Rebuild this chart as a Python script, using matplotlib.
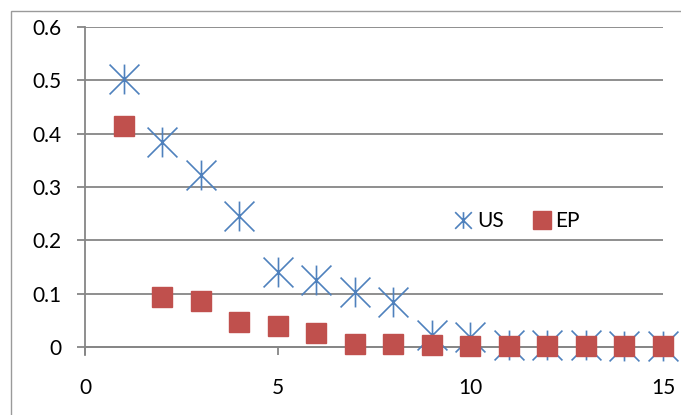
import numpy as np
import matplotlib.pyplot as plt
from matplotlib.path import Path
from matplotlib.patches import Rectangle

# datos
x = [1, 2, 3, 4, 5, 6, 7, 8, 9, 10, 11, 12, 13, 14, 15]
us = [0.502, 0.385, 0.322, 0.245, 0.141, 0.126, 0.104, 0.084, 0.022, 0.018,
      0.004, 0.003, 0.003, 0.002, 0.002]
ep = [0.415, 0.093, 0.087, 0.046, 0.040, 0.027, 0.006, 0.005, 0.004, 0.002,
      0.002, 0.001, 0.001, 0.001, 0.001]
xticks = [0, 5, 10, 15]
yticks = [0, 0.1, 0.2, 0.3, 0.4, 0.5, 0.6]
ytick_labels = ["0", "0.1", "0.2", "0.3", "0.4", "0.5", "0.6"]

plt.rcParams['font.family'] = ['Lato', 'DejaVu Sans']

gris = '#868686'
azul = '#4F81BD'
rojo = '#C0504D'

# marcador asterisco estilo Excel (vertical + X)
asterisco = Path([(0, -1), (0, 1), (-1, -1), (1, 1), (-1, 1), (1, -1)],
                 [Path.MOVETO, Path.LINETO, Path.MOVETO, Path.LINETO,
                  Path.MOVETO, Path.LINETO])

fig = plt.figure(figsize=(6.81, 4.15), dpi=100)
ax = fig.add_axes([85 / 681, 1 - 355 / 415, 578 / 681, 328 / 415])

ax.plot(x, us, linestyle='none', marker=asterisco, markersize=21.5,
        markeredgewidth=1.2, color=azul, label='US', clip_on=False, zorder=3)
ax.plot(x, ep, linestyle='none', marker='s', markersize=14.4,
        color=rojo, label='EP', clip_on=False, zorder=4)

ax.set_xlim(0, 15)
ax.set_ylim(-0.015, 0.6)
ax.set_xticks(xticks)
ax.set_yticks(yticks)
ax.set_yticklabels(ytick_labels)

ax.grid(axis='y', color=gris, linewidth=1.3)
ax.set_axisbelow(True)
for s in ['top', 'right']:
    ax.spines[s].set_visible(False)
ax.spines['bottom'].set_position(('data', 0))
ax.spines['bottom'].set_color(gris)
ax.spines['left'].set_color(gris)
ax.spines['bottom'].set_linewidth(1.3)
ax.spines['left'].set_linewidth(1.3)
ax.tick_params(axis='both', direction='out', length=6, width=1.3,
               color=gris, labelsize=15, labelcolor='black')
ax.tick_params(axis='y', pad=11)
ax.tick_params(axis='x', pad=16)

leg = ax.legend(ncol=2, frameon=False, loc='center', fontsize=15,
                bbox_to_anchor=(517 / 681, 1 - 221 / 415),
                bbox_transform=fig.transFigure, handlelength=0.9,
                handletextpad=0.2, columnspacing=1.4)
leg.legend_handles[0].set_markersize(12)
leg.legend_handles[1].set_markersize(13)

# borde exterior del grafico
fig.patches.append(Rectangle((11 / 681, -0.1), 2, 1 - 11 / 415 + 0.1,
                             transform=fig.transFigure, fill=False,
                             edgecolor='#9a9a9a', linewidth=1))

fig.savefig('out.png', dpi=100)
